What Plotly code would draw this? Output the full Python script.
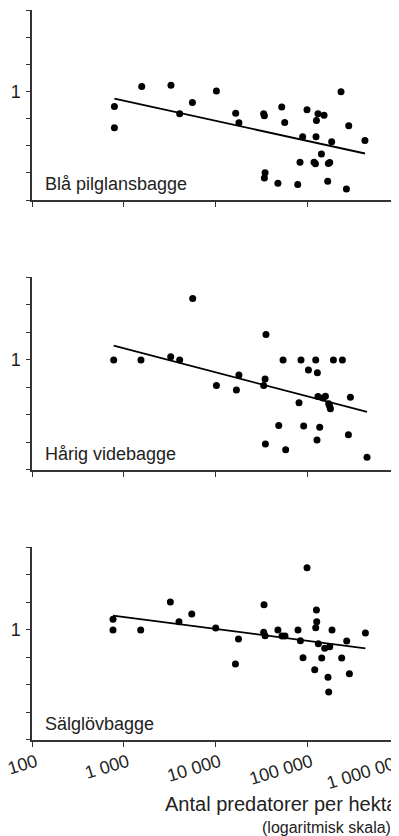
import plotly.graph_objects as go

# ---- data ----
panel_names = ["Blå pilglansbagge", "Hårig videbagge", "Sälglövbagge"]

bla_x = [791, 791, 1570, 3270, 4070, 5600, 10230, 16600, 18000, 33500, 34100, 52700,
         56800, 99400, 130900, 152400, 125900, 233300, 283300, 425600, 89100, 124600,
         184600, 142700, 83400, 118600, 122800, 170000, 175700, 34700, 34100, 47900,
         78700, 167100, 267200]
bla_y = [0.682, 0.396, 1.136, 1.174, 0.566, 0.755, 1.008, 0.574, 0.449, 0.566, 0.538, 0.670,
         0.453, 0.627, 0.566, 0.546, 0.477, 0.992, 0.416, 0.286, 0.314, 0.314,
         0.277, 0.202, 0.164, 0.164, 0.158, 0.159, 0.163, 0.125, 0.110, 0.096,
         0.093, 0.101, 0.083]
bla_trend_x = [791, 425600]
bla_trend_y = [0.830, 0.205]

harig_x = [777, 1540, 3250, 4070, 5640, 10230, 16900, 18000, 35500, 34700, 33500, 54500,
           85500, 123700, 192800, 241600, 103000, 128900, 130900, 157800, 148600, 171300,
           178800, 175700, 295300, 81300, 48900, 91400, 136800, 280900, 127700, 35000,
           58200, 448100]
harig_y = [1.0, 1.0, 1.087, 1.0, 4.72, 0.527, 0.470, 0.685, 1.906, 0.619, 0.527, 1.0,
           1.0, 1.0, 1.0, 1.0, 0.777, 0.726, 0.397, 0.400, 0.384, 0.332,
           0.293, 0.311, 0.390, 0.341, 0.192, 0.189, 0.183, 0.152, 0.133, 0.120,
           0.104, 0.086]
harig_trend_x = [777, 448100]
harig_trend_y = [1.434, 0.270]

salg_x = [764, 764, 1530, 3220, 4000, 5510, 10050, 17800, 16500, 33800, 33500, 34700,
          47900, 53100, 57200, 79300, 84200, 99400, 125900, 126800, 123700, 186200,
          132100, 155000, 175700, 269200, 430300, 89900, 143800, 237300, 120600, 288000,
          168300, 171300]
salg_y = [1.310, 1.0, 1.0, 2.025, 1.233, 1.497, 1.052, 0.797, 0.424, 1.892, 0.944, 0.866,
          1.0, 0.860, 0.860, 1.0, 0.764, 4.81, 1.655, 1.233, 1.06, 1.0,
          0.708, 0.630, 0.656, 0.758, 0.927, 0.497, 0.494, 0.494, 0.368, 0.332,
          0.304, 0.209]
salg_trend_x = [764, 430300]
salg_trend_y = [1.434, 0.630]

x_tickvals = [100, 1000, 10000, 100000, 1000000]
x_ticktext = ["100", "1 000", "10 000", "100 000", "1 000 000"]
y_tickvals = [2 ** k for k in range(-4, 4)]
y_ticktext = ["", "", "", "", "1", "", "", ""]

x_title = "Antal predatorer per hektar"
x_subtitle = "(logaritmisk skala)"

# ---- figure ----
FONT = "Liberation Sans, Arial, sans-serif"
AXC = "#333333"
TXT = "#222222"

series = [(bla_x, bla_y, bla_trend_x, bla_trend_y),
          (harig_x, harig_y, harig_trend_x, harig_trend_y),
          (salg_x, salg_y, salg_trend_x, salg_trend_y)]
domains = [[0.7397, 1.0], [0.3699, 0.6336], [0.0, 0.2637]]

fig = go.Figure()
layout = dict(
    width=391, height=828,
    margin=dict(l=24, r=0, t=2, b=96),
    paper_bgcolor="white", plot_bgcolor="white",
    showlegend=False,
    font=dict(family=FONT, size=18, color=TXT),
    annotations=[],
)

for i, (sx, sy, tx, ty) in enumerate(series):
    n = "" if i == 0 else str(i + 1)
    xa, ya = "x" + n, "y" + n
    fig.add_trace(go.Scatter(x=tx, y=ty, mode="lines", xaxis=xa, yaxis=ya,
                             line=dict(color="black", width=1.8), hoverinfo="skip"))
    fig.add_trace(go.Scatter(x=sx, y=sy, mode="markers", xaxis=xa, yaxis=ya,
                             marker=dict(color="black", size=7, line=dict(width=0))))
    layout["xaxis" + n] = dict(
        type="log", range=[2, 6], anchor=ya, domain=[0, 1],
        showline=True, linecolor=AXC, linewidth=1.5, mirror=False,
        ticks="outside", ticklen=5, tickwidth=1.3, tickcolor=AXC,
        tickvals=x_tickvals, ticktext=x_ticktext,
        showticklabels=(i == 2), tickangle=-17, ticklabeloverflow="allow",
        ticklabelshift=4, ticklabelstandoff=-2,
        tickfont=dict(family=FONT, size=18, color=TXT),
        showgrid=False, zeroline=False, automargin=False,
    )
    layout["yaxis" + n] = dict(
        type="log", range=[-4 * 0.30103, 3 * 0.30103], anchor=xa, domain=domains[i],
        showline=True, linecolor=AXC, linewidth=1.5,
        ticks="outside", ticklen=4, tickwidth=1.3, tickcolor=AXC,
        tickvals=y_tickvals, ticktext=y_ticktext, ticklabelstandoff=2,
        tickfont=dict(family=FONT, size=18, color=TXT),
        showgrid=False, zeroline=False, automargin=False,
    )
    layout["annotations"].append(dict(
        text=panel_names[i], xref=xa + " domain", yref=ya + " domain",
        x=0.03, y=0.085, xanchor="left", yanchor="middle", showarrow=False,
        font=dict(family=FONT, size=18, color=TXT),
    ))

layout["annotations"].append(dict(
    text=x_title, xref="paper", yref="paper", x=0.356, y=-0.0877,
    xanchor="left", yanchor="middle", showarrow=False,
    font=dict(family=FONT, size=20, color=TXT)))
layout["annotations"].append(dict(
    text=x_subtitle, xref="paper", yref="paper", x=0.621, y=-0.1205,
    xanchor="left", yanchor="middle", showarrow=False,
    font=dict(family=FONT, size=16, color=TXT)))

fig.update_layout(**layout)
fig.write_html("out.html")
